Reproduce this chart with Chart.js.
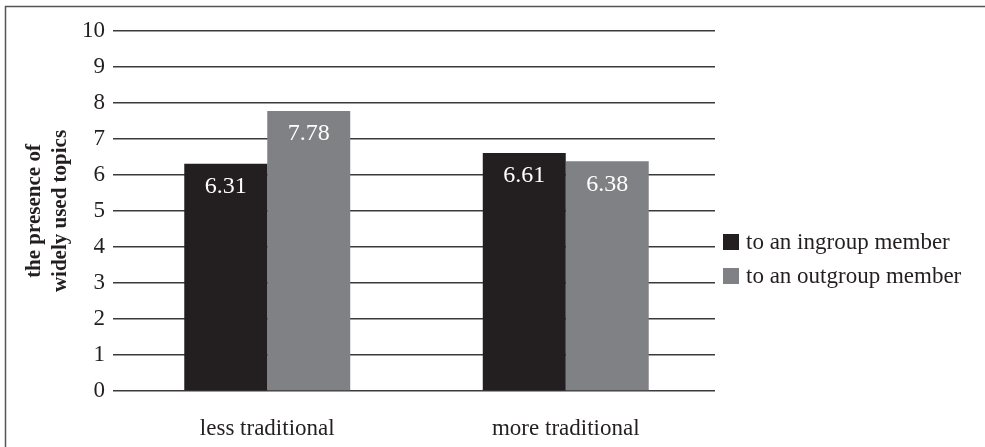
<!DOCTYPE html>
<html>
<head>
<meta charset="utf-8">
<script src="https://cdn.jsdelivr.net/npm/chart.js@4/dist/chart.umd.min.js"></script>
<style>
  html, body { margin: 0; padding: 0; background: #fff; }
  #wrap { width: 985px; height: 447px; position: relative; }
</style>
</head>
<body>
<div id="wrap"><canvas id="chart" width="985" height="447"></canvas></div>
<script>
const categories = ["less traditional", "more traditional"];
const seriesNames = ["to an ingroup member", "to an outgroup member"];
const ingroupValues = [6.31, 6.61];
const outgroupValues = [7.78, 6.38];
const yTicks = [0, 1, 2, 3, 4, 5, 6, 7, 8, 9, 10];
const yTitle = ["the presence of", "widely used topics"];

const FONT = "'Liberation Serif', 'DejaVu Serif', serif";
const INK = "#231f20";

// frame (left + top edges only, as in the original crop)
const framePlugin = {
    id: "frame",
    beforeDraw(chart) {
        let ctx = chart.ctx;
        ctx.save();
        ctx.strokeStyle = "#555";
        ctx.lineWidth = 1.5;
        ctx.beginPath();
        ctx.moveTo(5.5, 447);
        ctx.lineTo(5.5, 6.5);
        ctx.lineTo(985, 6.5);
        ctx.stroke();
        ctx.restore();
    }
};

// value labels inside the top of each bar
const valueLabels = {
    id: "valueLabels",
    afterDatasetsDraw(chart) {
        let ctx = chart.ctx;
        ctx.save();
        ctx.font = "24px " + FONT;
        ctx.fillStyle = "#fff";
        ctx.textAlign = "center";
        ctx.textBaseline = "middle";
        chart.data.datasets.forEach((ds, i) => {
            chart.getDatasetMeta(i).data.forEach((bar, j) => {
                ctx.fillText(ds.data[j].toFixed(2), bar.x, bar.y + 23);
            });
        });
        ctx.restore();
    }
};

// legend on the right, drawn by hand so it sits where the original has it
const sideLegend = {
    id: "sideLegend",
    afterDraw(chart) {
        let ctx = chart.ctx;
        ctx.save();
        ctx.font = "23px " + FONT;
        ctx.textBaseline = "middle";
        ctx.textAlign = "left";
        chart.data.datasets.forEach((ds, i) => {
            let y = 242 + i * 34;
            ctx.fillStyle = ds.backgroundColor;
            ctx.fillRect(723, y - 8, 16, 16);
            ctx.fillStyle = INK;
            ctx.fillText(ds.label, 746, y + 1);
        });
        ctx.restore();
    }
};

let ctx = document.getElementById("chart").getContext("2d");

new Chart(ctx, {
    type: "bar",
    data: {
        labels: categories,
        datasets: [
            {
                label: seriesNames[0],
                data: ingroupValues,
                backgroundColor: "#231f20"
            },
            {
                label: seriesNames[1],
                data: outgroupValues,
                backgroundColor: "#808184"
            }
        ]
    },
    options: {
        responsive: false,
        animation: false,
        devicePixelRatio: 1,
        layout: { padding: { top: 31, right: 270, bottom: 0, left: 0 } },
        datasets: {
            bar: { barPercentage: 1, categoryPercentage: 0.556 }
        },
        plugins: {
            legend: { display: false },
            tooltip: { enabled: false }
        },
        scales: {
            y: {
                min: 0,
                max: 10,
                afterBuildTicks(scale) {
                    scale.ticks = yTicks.map(v => ({ value: v }));
                },
                afterFit(scale) { scale.width = 118; },
                ticks: {
                    font: { family: FONT, size: 23 },
                    color: INK,
                    padding: 8
                },
                grid: {
                    color: "#3a3a3a",
                    lineWidth: 1.5,
                    tickLength: 5,
                    drawTicks: true
                },
                border: { display: false },
                title: {
                    display: true,
                    text: yTitle,
                    font: { family: FONT, size: 21, weight: "bold", lineHeight: 1.25 },
                    color: INK,
                    padding: { top: 21, bottom: 4 }
                }
            },
            x: {
                afterFit(scale) { scale.height = 56; },
                ticks: {
                    font: { family: FONT, size: 23 },
                    color: INK,
                    padding: 16
                },
                grid: { display: false },
                border: { display: false }
            }
        }
    },
    plugins: [framePlugin, valueLabels, sideLegend]
});
</script>
</body>
</html>
